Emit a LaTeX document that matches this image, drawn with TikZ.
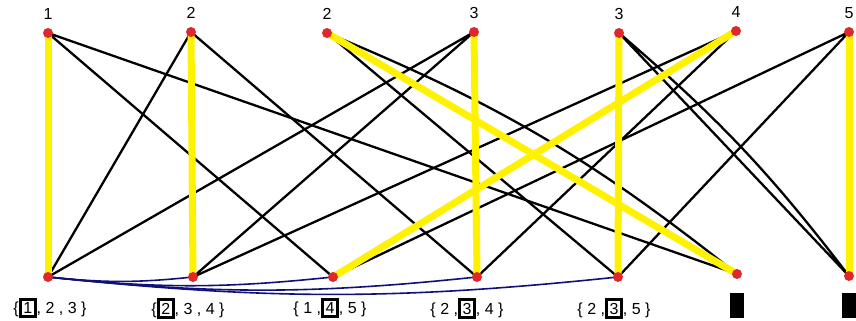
\documentclass[tikz,border=0pt]{standalone}
\usepackage{fontspec}
\setmainfont{Liberation Sans}
\usetikzlibrary{positioning}
\definecolor{dotred}{HTML}{E0282C}
\definecolor{matchyellow}{HTML}{FFF200}
\definecolor{sidenavy}{HTML}{10107A}
\pgfdeclarelayer{edges}
\pgfsetlayers{edges,main}
\tikzset{
  vtx/.style={circle, fill=dotred, inner sep=0pt, minimum size=10pt},
  vlabel/.style={font=\fontsize{16}{19}\selectfont, inner sep=0pt},
  blankBox/.style={fill=black, inner sep=0pt, minimum width=14pt, minimum height=25pt},
  plainEdge/.style={draw=black, line width=2.3pt},
  matchEdge/.style={draw=matchyellow, line width=7pt},
  sideEdge/.style={draw=sidenavy, line width=1.6pt}
}
\newcommand{\pick}[1]{{\setlength\fboxrule{3pt}\setlength\fboxsep{1.5pt}\fbox{#1}}}

\begin{document}
\begin{tikzpicture}[x=1pt,y=-1pt]
  \useasboundingbox (0,0) rectangle (856,321);
  % top row
  \node[vtx] (t1) at (48,33) {};
  \node[vtx] (t2) at (191,32) {};
  \node[vtx] (t3) at (327,33) {};
  \node[vtx] (t4) at (474,32) {};
  \node[vtx] (t5) at (619,33) {};
  \node[vtx] (t6) at (736,31) {};
  \node[vtx] (t7) at (849,32) {};
  \node[vlabel, above=8pt of t1] (l1) {1};
  \node[vlabel, above=8pt of t2] (l2) {2};
  \node[vlabel, above=8pt of t3] (l3) {2};
  \node[vlabel, above=8pt of t4] (l4) {3};
  \node[vlabel, above=8pt of t5] (l5) {3};
  \node[vlabel, above=8pt of t6] (l6) {4};
  \node[vlabel, above=8pt of t7] (l7) {5};
  % bottom row
  \node[vtx] (b1) at (48,277) {};
  \node[vtx] (b2) at (193,277) {};
  \node[vtx] (b3) at (333,277) {};
  \node[vtx] (b4) at (477,277) {};
  \node[vtx] (b5) at (618,277) {};
  \node[vtx] (b6) at (737,274) {};
  \node[vtx] (b7) at (849,276) {};
  \node[vlabel, below=16pt of b1, xshift=2pt] (s1) {\{\pick{1}, 2 , 3 \}};
  \node[vlabel, below=16pt of b2, xshift=-5pt] (s2) {\{\pick{2}, 3 , 4 \}};
  \node[vlabel, below=16pt of b3, xshift=-3pt] (s3) {\{ 1 ,\pick{4}, 5 \}};
  \node[vlabel, below=16pt of b4, xshift=-10pt] (s4) {\{ 2 ,\pick{3}, 4 \}};
  \node[vlabel, below=16pt of b5, xshift=-4pt] (s5) {\{ 2 ,\pick{3}, 5 \}};
  \node[blankBox, below=14pt of b6] (s6) {};
  \node[blankBox, below=12pt of b7] (s7) {};

  \begin{pgfonlayer}{edges}
    % black edges
    \draw[plainEdge] (t1.center) -- (b3.center) (t1.center) -- (b6.center);
    \draw[plainEdge] (t2.center) -- (b1.center) (t2.center) -- (b4.center);
    \draw[plainEdge] (t3.center) -- (b5.center) (t3.center) to[bend left=8] (b6.center);
    \draw[plainEdge] (t4.center) -- (b1.center) (t4.center) -- (b2.center);
    \draw[plainEdge] (t5.center) -- (b7.center) (t5.center) to[bend left=6] (b7.center);
    \draw[plainEdge] (t6.center) -- (b2.center) (t6.center) -- (b4.center);
    \draw[plainEdge] (t7.center) -- (b3.center) (t7.center) -- (b5.center);
    % matching
    \draw[matchEdge] (t1.center) -- (b1.center);
    \draw[matchEdge] (t2.center) -- (b2.center);
    \draw[matchEdge] (t3.center) -- (b6.center);
    \draw[matchEdge] (t4.center) -- (b4.center);
    \draw[matchEdge] (t5.center) -- (b5.center);
    \draw[matchEdge] (t6.center) -- (b3.center);
    \draw[matchEdge] (t7.center) -- (b7.center);
    % bottom arcs
    \draw[sideEdge] (b1.center) to[bend right=6] (b2.center);
    \draw[sideEdge] (b1.center) to[bend right=6] (b3.center);
    \draw[sideEdge] (b1.center) to[bend right=6] (b4.center);
    \draw[sideEdge] (b1.center) to[bend right=6] (b5.center);
  \end{pgfonlayer}
\end{tikzpicture}
\end{document}
